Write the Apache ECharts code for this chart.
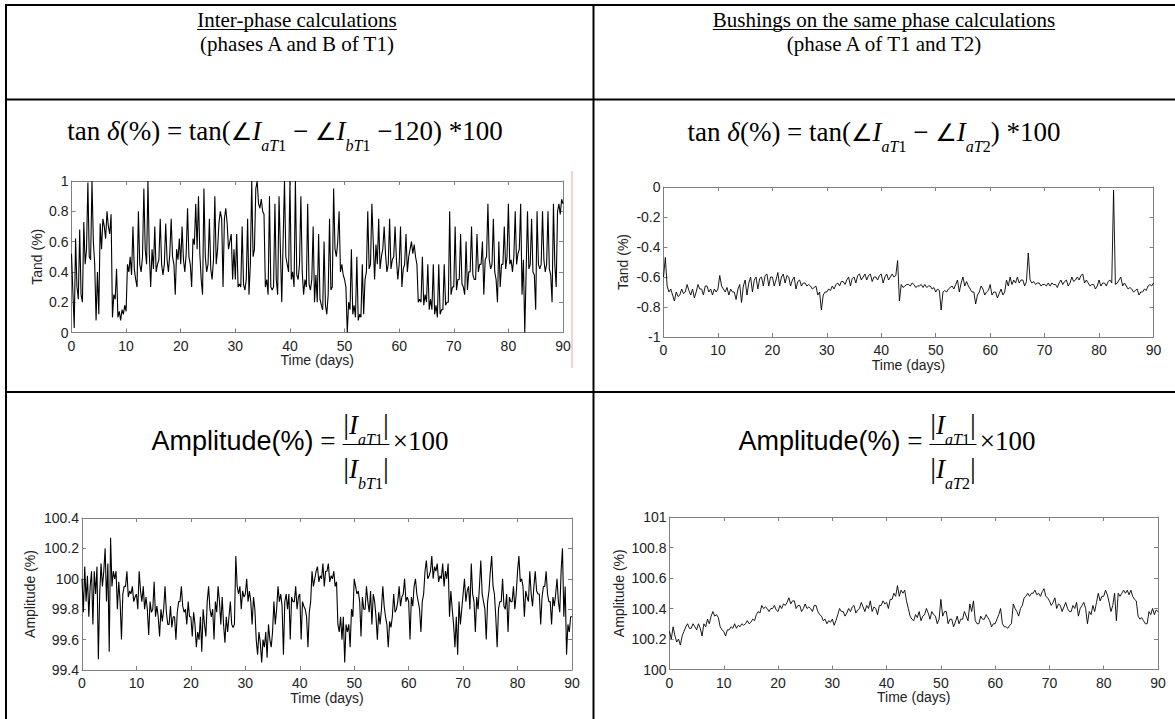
<!DOCTYPE html>
<html><head><meta charset="utf-8">
<script src="https://cdn.jsdelivr.net/npm/echarts@6/dist/echarts.min.js"></script>
<style>
html,body{margin:0;padding:0;background:#fff}
#wrap{position:relative;width:1175px;height:719px;overflow:hidden}
#c{position:absolute;left:0;top:0;width:1175px;height:719px}
.f{position:absolute;transform:translate(-50%,-50%);white-space:nowrap;line-height:27px;color:#000;
   font-family:"Liberation Serif","Times New Roman",serif;font-size:27px;font-style:normal}
.f i{font-style:italic}
.f .s{font-size:16px;position:relative;top:11px;line-height:1}
.f .sans{font-family:"Liberation Sans",Arial,sans-serif}
.f .ang{font-family:"DejaVu Sans",sans-serif;font-size:24px}
.f .frac{display:inline-block;vertical-align:middle;text-align:center;position:relative;top:3px;margin-right:3px}
.f .num{display:block;border-bottom:1px solid #000;padding:0 1px 5px 1px}
.f .den{display:block;padding-top:10px}
.f .bar{font-size:29px}
</style>
</head><body><div id="wrap"><div id="c"></div>
<div class="f" id="f1"></div><div class="f" id="f2"></div><div class="f" id="f3"></div><div class="f" id="f4"></div>
</div>
<script>
// ---------------- DATA ----------------
const timeTicks = [0, 10, 20, 30, 40, 50, 60, 70, 80, 90];
const timeName = 'Time (days)';
const headerLeft = ['Inter-phase calculations', '(phases A and B of T1)'];
const headerRight = ['Bushings on the same phase calculations', '(phase A of T1 and T2)'];

// tan delta, inter-phase (phases A and B of T1), 4 samples per day
const tandInterStep = 0.25;
const tandInter = [
0.52,0.27,0.03,0.62, 0.30,0.22,0.68,0.25, 0.20,0.73,0.45,0.55, 0.99,0.50,0.48,1.00, 0.60,0.45,0.08,0.40,
0.12,0.72,0.55,0.75, 0.70,0.62,0.80,0.70, 0.65,0.78,0.10,0.25, 0.22,0.42,0.10,0.14, 0.08,0.15,0.12,0.18,
0.14,0.45,0.40,0.50, 0.38,0.70,0.42,0.35, 0.30,0.80,0.45,0.40, 0.50,0.95,0.55,0.45, 1.00,0.52,0.30,0.55,
0.42,0.70,0.40,0.45, 0.48,0.75,0.45,0.38, 0.45,0.72,0.48,0.40, 0.52,0.75,0.50,0.45, 0.25,0.55,0.48,0.62,
0.45,0.70,0.48,0.40, 0.52,0.82,0.50,0.45, 0.30,0.62,0.58,0.85, 0.55,0.90,0.52,0.35, 0.25,0.95,0.50,0.40,
0.45,0.75,0.42,0.35, 0.48,0.90,0.45,0.55, 0.72,0.80,0.75,0.30, 0.75,0.82,0.72,0.55, 0.60,0.65,0.35,0.55,
0.35,0.65,0.30,0.32, 0.30,0.70,0.32,0.28, 0.35,0.75,0.25,0.45, 1.00,0.50,0.55,0.95, 1.00,0.85,0.82,0.88,
0.80,0.78,0.30,0.35, 0.25,0.90,0.30,0.28, 0.30,0.85,0.35,0.25, 0.90,0.55,0.20,0.60, 1.00,0.50,0.45,0.40,
1.00,0.35,0.40,0.30, 1.00,0.38,0.35,0.45, 0.90,0.40,0.25,0.35, 0.30,0.85,0.32,0.28, 0.35,0.70,0.20,0.38,
0.20,0.65,0.22,0.18, 0.15,0.60,0.18,0.12, 0.25,0.75,0.28,0.30, 0.95,0.55,0.50,0.60, 0.80,0.40,0.45,0.38,
0.35,0.30,0.00,0.20, 0.15,0.55,0.12,0.18, 0.10,0.50,0.08,0.12, 0.10,0.45,0.12,0.35, 0.40,0.80,0.42,0.45,
0.85,0.60,0.35,0.58, 0.45,0.75,0.42,0.50, 0.55,0.70,0.52,0.40, 0.45,0.75,0.42,0.48, 0.50,0.70,0.48,0.35,
0.45,0.70,0.30,0.42, 0.45,0.65,0.40,0.50, 0.55,0.60,0.52,0.58, 0.50,0.45,0.20,0.22, 0.20,0.50,0.18,0.25,
0.20,0.45,0.15,0.22, 0.15,0.45,0.12,0.18, 0.10,0.45,0.12,0.15, 0.15,0.45,0.18,0.20, 0.20,0.80,0.25,0.30,
0.30,0.70,0.28,0.35, 0.35,0.65,0.32,0.30, 0.25,0.60,0.28,0.40, 0.40,0.70,0.38,0.35, 0.35,0.65,0.40,0.45,
0.45,0.60,0.25,0.48, 0.50,0.85,0.48,0.42, 0.45,0.75,0.40,0.35, 0.20,0.60,0.30,0.45, 0.45,0.70,0.42,0.50,
0.85,0.45,0.48,0.40, 0.50,0.80,0.45,0.52, 0.55,0.85,0.25,0.48, 0.00,0.40,0.80,0.42, 0.45,0.75,0.40,0.38,
0.15,0.80,0.45,0.42, 0.45,0.80,0.48,0.40, 0.45,0.80,0.42,0.38, 0.20,0.85,0.45,0.30, 0.80,0.85,0.78,0.88,
0.85];

// tan delta, same phase (phase A of T1 and T2), 3 samples per day
const tandSameStep = 1 / 3;
const tandSame = [
-0.60,-0.47,-0.66, -0.70,-0.68,-0.72, -0.76,-0.70,-0.73, -0.72,-0.68,-0.71, -0.70,-0.65,-0.69,
-0.72,-0.68,-0.74, -0.70,-0.65,-0.68, -0.68,-0.72,-0.66, -0.66,-0.70,-0.68, -0.72,-0.68,-0.70,
-0.68,-0.59,-0.66, -0.68,-0.70,-0.67, -0.72,-0.68,-0.70, -0.70,-0.75,-0.68, -0.65,-0.77,-0.66,
-0.62,-0.72,-0.64, -0.60,-0.70,-0.62, -0.60,-0.68,-0.61, -0.60,-0.66,-0.59, -0.58,-0.66,-0.60,
-0.60,-0.66,-0.62, -0.57,-0.66,-0.60, -0.58,-0.64,-0.59, -0.60,-0.66,-0.62, -0.60,-0.68,-0.63,
-0.62,-0.66,-0.64, -0.64,-0.66,-0.65, -0.66,-0.68,-0.67, -0.66,-0.72,-0.70, -0.82,-0.72,-0.70,
-0.70,-0.68,-0.69, -0.66,-0.68,-0.65, -0.64,-0.66,-0.63, -0.63,-0.65,-0.62, -0.60,-0.66,-0.61,
-0.60,-0.64,-0.59, -0.58,-0.62,-0.60, -0.58,-0.62,-0.59, -0.58,-0.63,-0.60, -0.60,-0.62,-0.59,
-0.58,-0.64,-0.60, -0.58,-0.62,-0.60, -0.58,-0.60,-0.59, -0.49,-0.76,-0.65, -0.67,-0.66,-0.65,
-0.65,-0.66,-0.64, -0.65,-0.67,-0.66, -0.66,-0.65,-0.67, -0.65,-0.67,-0.66, -0.66,-0.68,-0.67,
-0.70,-0.68,-0.69, -0.82,-0.70,-0.69, -0.70,-0.68,-0.67, -0.66,-0.68,-0.65, -0.62,-0.70,-0.64,
-0.60,-0.66,-0.63, -0.66,-0.68,-0.70, -0.70,-0.78,-0.72, -0.70,-0.66,-0.68, -0.72,-0.70,-0.69,
-0.65,-0.72,-0.70, -0.70,-0.74,-0.71, -0.68,-0.72,-0.70, -0.62,-0.66,-0.60, -0.65,-0.62,-0.64,
-0.60,-0.64,-0.62, -0.62,-0.66,-0.63, -0.44,-0.62,-0.64, -0.63,-0.65,-0.64, -0.64,-0.66,-0.65,
-0.65,-0.66,-0.64, -0.66,-0.64,-0.65, -0.65,-0.67,-0.64, -0.62,-0.65,-0.63, -0.62,-0.66,-0.64,
-0.60,-0.63,-0.62, -0.60,-0.62,-0.59, -0.58,-0.64,-0.62, -0.64,-0.66,-0.65, -0.65,-0.68,-0.66,
-0.62,-0.66,-0.64, -0.64,-0.66,-0.63, -0.62,-0.64,-0.02, -0.65,-0.64,-0.62, -0.60,-0.66,-0.64,
-0.66,-0.68,-0.67, -0.68,-0.70,-0.69, -0.68,-0.72,-0.70, -0.70,-0.68,-0.69, -0.66,-0.65,-0.66,
-0.64];

// amplitude ratio, inter-phase, 4 samples per day
const ampInterStep = 0.25;
const ampInter = [
100.00,99.78,100.08,99.85, 100.02,99.75,99.95,100.05, 99.70,100.05,99.90,100.08, 99.47,99.90,100.10,99.95, 100.05,100.20,99.85,100.10,
99.52,100.27,99.95,100.05, 100.00,100.05,99.80,99.98, 99.85,99.60,99.90,99.95, 99.95,100.05,99.88,99.92, 99.90,99.95,99.85,99.88,
99.90,99.80,100.05,99.92, 99.85,99.95,99.80,99.88, 99.80,99.63,99.85,99.78, 99.80,99.98,99.75,99.82, 99.75,99.62,99.80,99.72,
99.80,99.95,99.78,99.70, 99.70,99.82,99.68,99.75, 99.75,99.60,99.78,99.85, 99.85,99.95,99.82,99.78, 99.80,99.70,99.85,99.75,
99.75,99.62,99.78,99.70, 99.55,99.65,99.60,99.75, 99.52,99.80,99.70,99.62, 99.85,99.95,99.80,99.75, 99.80,99.60,99.85,99.78,
99.95,99.85,99.70,99.88, 99.70,99.58,99.75,99.65, 99.75,99.85,99.70,99.68, 99.70,100.15,99.95,99.90, 99.95,99.80,99.92,99.88,
99.90,100.00,99.85,99.92, 99.85,99.70,99.88,99.80, 99.60,99.50,99.65,99.58, 99.45,99.60,99.55,99.65, 99.48,99.70,99.60,99.55,
99.65,99.85,99.70,99.80, 99.95,99.85,99.90,99.82, 99.50,99.85,99.90,99.80, 99.90,99.60,99.88,99.85, 99.85,99.95,99.80,99.88,
99.90,99.60,99.85,99.82, 99.80,99.75,99.55,99.78, 99.85,100.05,99.95,100.00, 100.05,100.08,99.98,100.02, 100.00,100.10,99.95,100.05,
100.05,100.10,99.98,100.02, 100.00,100.05,99.95,99.98, 99.70,99.65,99.75,99.60, 99.75,99.45,99.70,99.65, 99.70,99.55,99.80,99.75,
100.00,99.95,99.90,99.92, 99.85,99.62,99.88,99.80, 99.80,99.95,99.85,99.78, 99.92,99.70,99.90,99.85, 99.75,99.60,99.78,99.70,
99.80,99.95,99.82,99.75, 99.70,99.55,99.72,99.68, 99.75,99.90,99.78,99.80, 99.85,99.95,99.82,99.88, 99.90,100.00,99.85,99.88,
99.85,99.60,99.88,99.82, 99.95,100.00,99.90,99.85, 99.80,99.65,99.85,99.90, 100.05,100.12,100.00,100.02, 100.05,100.15,100.00,100.08,
100.05,100.10,99.98,100.02, 100.00,100.10,99.95,100.05, 100.00,100.10,99.75,99.92, 99.80,99.70,99.55,99.75, 99.50,99.85,99.70,99.80,
99.90,100.00,99.85,99.92, 99.95,99.80,100.10,99.90, 99.85,99.65,99.88,99.80, 99.95,100.12,99.90,99.85, 99.80,99.60,99.85,99.92,
100.05,100.15,99.95,99.90, 99.75,99.55,99.80,99.85, 99.85,100.00,99.82,99.80, 99.90,99.65,99.88,99.85, 99.85,99.95,99.80,99.90,
100.05,100.15,99.98,100.00, 99.95,99.75,99.92,99.88, 99.85,100.05,99.90,99.82, 99.95,100.05,99.92,99.90, 99.90,99.70,99.88,99.95,
99.95,100.05,99.90,99.85, 99.85,99.70,99.88,99.82, 99.90,100.00,99.85,99.78, 100.05,100.20,99.75,99.95, 99.50,99.70,99.65,99.75,
99.75];

// amplitude ratio, same phase, 3 samples per day
const ampSameStep = 1 / 3;
const ampSame = [
100.25,100.20,100.28, 100.22,100.18,100.20, 100.16,100.22,100.25, 100.28,100.30,100.27, 100.27,100.30,100.28,
100.26,100.30,100.27, 100.22,100.30,100.28, 100.33,100.30,100.35, 100.38,100.35,100.36, 100.34,100.28,100.26,
100.25,100.22,100.26, 100.26,100.28,100.27, 100.30,100.27,100.29, 100.28,100.30,100.29, 100.30,100.32,100.30,
100.31,100.33,100.32, 100.36,100.38,100.37, 100.42,100.40,100.41, 100.40,100.38,100.40, 100.40,100.42,100.39,
100.38,100.42,100.40, 100.43,100.42,100.44, 100.47,100.43,100.45, 100.45,100.40,100.42, 100.42,100.38,100.40,
100.43,100.40,100.41, 100.40,100.38,100.42, 100.42,100.38,100.36, 100.35,100.32,100.33, 100.30,100.32,100.31,
100.33,100.29,100.32, 100.36,100.40,100.38, 100.38,100.35,100.37, 100.40,100.38,100.41, 100.42,100.37,100.39,
100.40,100.44,100.41, 100.38,100.42,100.40, 100.45,100.38,100.41, 100.40,100.36,100.42, 100.42,100.45,100.43,
100.44,100.40,100.46, 100.46,100.50,100.48, 100.55,100.48,100.52, 100.50,100.52,100.45, 100.40,100.35,100.33,
100.32,100.36,100.34, 100.38,100.32,100.35, 100.36,100.40,100.37, 100.33,100.38,100.36, 100.35,100.30,100.33,
100.46,100.35,100.38, 100.38,100.30,100.33, 100.33,100.28,100.31, 100.35,100.30,100.33, 100.33,100.38,100.35,
100.32,100.43,100.38, 100.45,100.32,100.30, 100.30,100.35,100.33, 100.33,100.36,100.34, 100.32,100.28,100.30,
100.30,100.33,100.36, 100.40,100.30,100.28, 100.28,100.27,100.29, 100.30,100.43,100.40, 100.38,100.35,100.40,
100.42,100.47,100.48, 100.50,100.48,100.50, 100.50,100.52,100.49, 100.50,100.48,100.51, 100.53,100.48,100.47,
100.45,100.42,100.44, 100.47,100.40,100.43, 100.42,100.38,100.41, 100.44,100.40,100.38, 100.38,100.42,100.40,
100.44,100.35,100.40, 100.42,100.44,100.40, 100.30,100.38,100.36, 100.42,100.38,100.44, 100.50,100.45,100.48,
100.48,100.52,100.49, 100.44,100.38,100.42, 100.50,100.32,100.50, 100.48,100.50,100.52, 100.50,100.52,100.49,
100.52,100.48,100.46, 100.45,100.35,100.33, 100.34,100.32,100.30, 100.30,100.38,100.36, 100.40,100.36,100.39,
100.38];

const tandInterAxis = {name: 'Tand (%)', min: 0, max: 1, interval: 0.2};
const tandSameAxis = {name: 'Tand (%)', min: -1, max: 0, interval: 0.2};
const ampInterAxis = {name: 'Amplitude (%)', min: 99.4, max: 100.4, interval: 0.2};
const ampSameAxis = {name: 'Amplitude (%)', min: 100, max: 101, interval: 0.2};

// formulas (real text, laid out as HTML)
const ANG = '<span class="ang">∠</span>';
const formulaTandInter = 'tan <i>δ</i>(%) = tan(' + ANG + '<i>I</i><span class="s"><i>aT</i>1</span> − ' + ANG + '<i>I</i><span class="s"><i>bT</i>1</span> −120) *100';
const formulaTandSame = 'tan <i>δ</i>(%) = tan(' + ANG + '<i>I</i><span class="s"><i>aT</i>1</span> − ' + ANG + '<i>I</i><span class="s"><i>aT</i>2</span>) *100';
function ampFormulaHtml(numSub, denSub) {
  const part = s => '<span class="bar">|</span><i>I</i><span class="s"><i>' + s[0] + '</i>' + s[1] + '</span><span class="bar">|</span>';
  return '<span class="sans">Amplitude(%)</span> = <span class="frac"><span class="num">' + part(numSub) +
    '</span><span class="den">' + part(denSub) + '</span></span>×100';
}
const formulaAmpInter = ampFormulaHtml(['aT', '1'], ['bT', '1']);
const formulaAmpSame = ampFormulaHtml(['aT', '1'], ['aT', '2']);

// ---------------- LAYOUT / STYLE ----------------
const SERIF = '"Liberation Serif", "DejaVu Serif", serif';
const SANS = '"Liberation Sans", Arial, sans-serif';
const AX = '#808080', TXT = '#222';

const panels = [
  {data: tandInter, step: tandInterStep, y: tandInterAxis, grid: {left: 71.5, top: 181, width: 491.5, height: 151.5}, nameGap: 28, lw: 1.1},
  {data: tandSame, step: tandSameStep, y: tandSameAxis, grid: {left: 663.5, top: 187, width: 490, height: 150}, nameGap: 34, lw: 0.9},
  {data: ampInter, step: ampInterStep, y: ampInterAxis, grid: {left: 82, top: 518, width: 490, height: 152}, nameGap: 45, lw: 1.1},
  {data: ampSame, step: ampSameStep, y: ampSameAxis, grid: {left: 669.5, top: 517, width: 488.5, height: 152.5}, nameGap: 44, lw: 0.9}
];

const grids = [], xAxes = [], yAxes = [], series = [];
panels.forEach((p, i) => {
  grids.push(Object.assign({containLabel: false, show: false}, p.grid));
  const tick = {show: true, inside: true, length: 4, lineStyle: {color: AX, width: 1}};
  const line = {show: true, onZero: false, lineStyle: {color: AX, width: 1}};
  xAxes.push({type: 'value', gridIndex: i, position: 'bottom', min: timeTicks[0], max: timeTicks[timeTicks.length - 1],
    interval: timeTicks[1] - timeTicks[0], axisLine: line, axisTick: tick, splitLine: {show: false},
    axisLabel: {color: TXT, fontSize: 14, fontFamily: SANS, margin: 6},
    name: timeName, nameLocation: 'middle', nameGap: 20,
    nameTextStyle: {color: TXT, fontSize: 14, fontFamily: SANS}});
  xAxes.push({type: 'value', gridIndex: i, position: 'top', min: timeTicks[0], max: timeTicks[timeTicks.length - 1],
    interval: timeTicks[1] - timeTicks[0], axisLine: line, axisTick: tick, splitLine: {show: false}, axisLabel: {show: false}});
  yAxes.push({type: 'value', gridIndex: i, position: 'left', min: p.y.min, max: p.y.max, interval: p.y.interval,
    axisLine: line, axisTick: tick, splitLine: {show: false},
    axisLabel: {color: TXT, fontSize: 14, fontFamily: SANS, margin: 3},
    name: p.y.name, nameLocation: 'middle', nameGap: p.nameGap, nameRotate: 90,
    nameTextStyle: {color: TXT, fontSize: 14, fontFamily: SANS}});
  yAxes.push({type: 'value', gridIndex: i, position: 'right', min: p.y.min, max: p.y.max, interval: p.y.interval,
    axisLine: line, axisTick: tick, splitLine: {show: false}, axisLabel: {show: false}});
  series.push({type: 'line', xAxisIndex: 2 * i, yAxisIndex: 2 * i, symbol: 'none', showSymbol: false,
    animation: false, clip: true, lineStyle: {color: '#000', width: p.lw},
    data: p.data.map((v, k) => [k * p.step, v])});
});

// ---------------- TABLE / HEADER GRAPHICS ----------------
const mctx = document.createElement('canvas').getContext('2d');
function tw(t, fs, ff) { mctx.font = fs + 'px ' + ff; return mctx.measureText(t).width; }
const G = [];
function hline(x1, x2, y, w, c) { G.push({type: 'line', silent: true, shape: {x1: x1, y1: y, x2: x2, y2: y}, style: {stroke: c || '#000', lineWidth: w || 2}}); }
function vline(x, y1, y2, w, c) { G.push({type: 'line', silent: true, shape: {x1: x, y1: y1, x2: x, y2: y2}, style: {stroke: c || '#000', lineWidth: w || 2}}); }

hline(5, 1175, 5); hline(5, 1175, 99.5); hline(5, 1175, 392);
vline(6, 4, 719); vline(593.5, 4, 719);
vline(572, 171, 368, 1, '#f3a0a0');

function header(lines, cx) {
  const fs = 21;
  const w0 = tw(lines[0], fs, SERIF);
  G.push({type: 'text', x: cx, y: 20, silent: true, style: {text: lines[0], fontSize: fs, fontFamily: SERIF, fill: '#000', align: 'center', verticalAlign: 'middle'}});
  hline(cx - w0 / 2, cx + w0 / 2, 29.5, 1);
  G.push({type: 'text', x: cx, y: 44, silent: true, style: {text: lines[1], fontSize: fs, fontFamily: SERIF, fill: '#000', align: 'center', verticalAlign: 'middle'}});
}
header(headerLeft, 297);
header(headerRight, 884);

function placeFormula(id, html, cx, cy) {
  const el = document.getElementById(id);
  el.innerHTML = html; el.style.left = cx + 'px'; el.style.top = cy + 'px';
}
placeFormula('f1', formulaTandInter, 285, 132);
placeFormula('f2', formulaTandSame, 874, 133);
placeFormula('f3', formulaAmpInter, 300, 444);
placeFormula('f4', formulaAmpSame, 887, 444);

const chart = echarts.init(document.getElementById('c'), null, {renderer: 'svg', width: 1175, height: 719});
chart.setOption({
  animation: false,
  backgroundColor: '#fff',
  grid: grids, xAxis: xAxes, yAxis: yAxes, series: series,
  graphic: {elements: G}
});
</script></body></html>
